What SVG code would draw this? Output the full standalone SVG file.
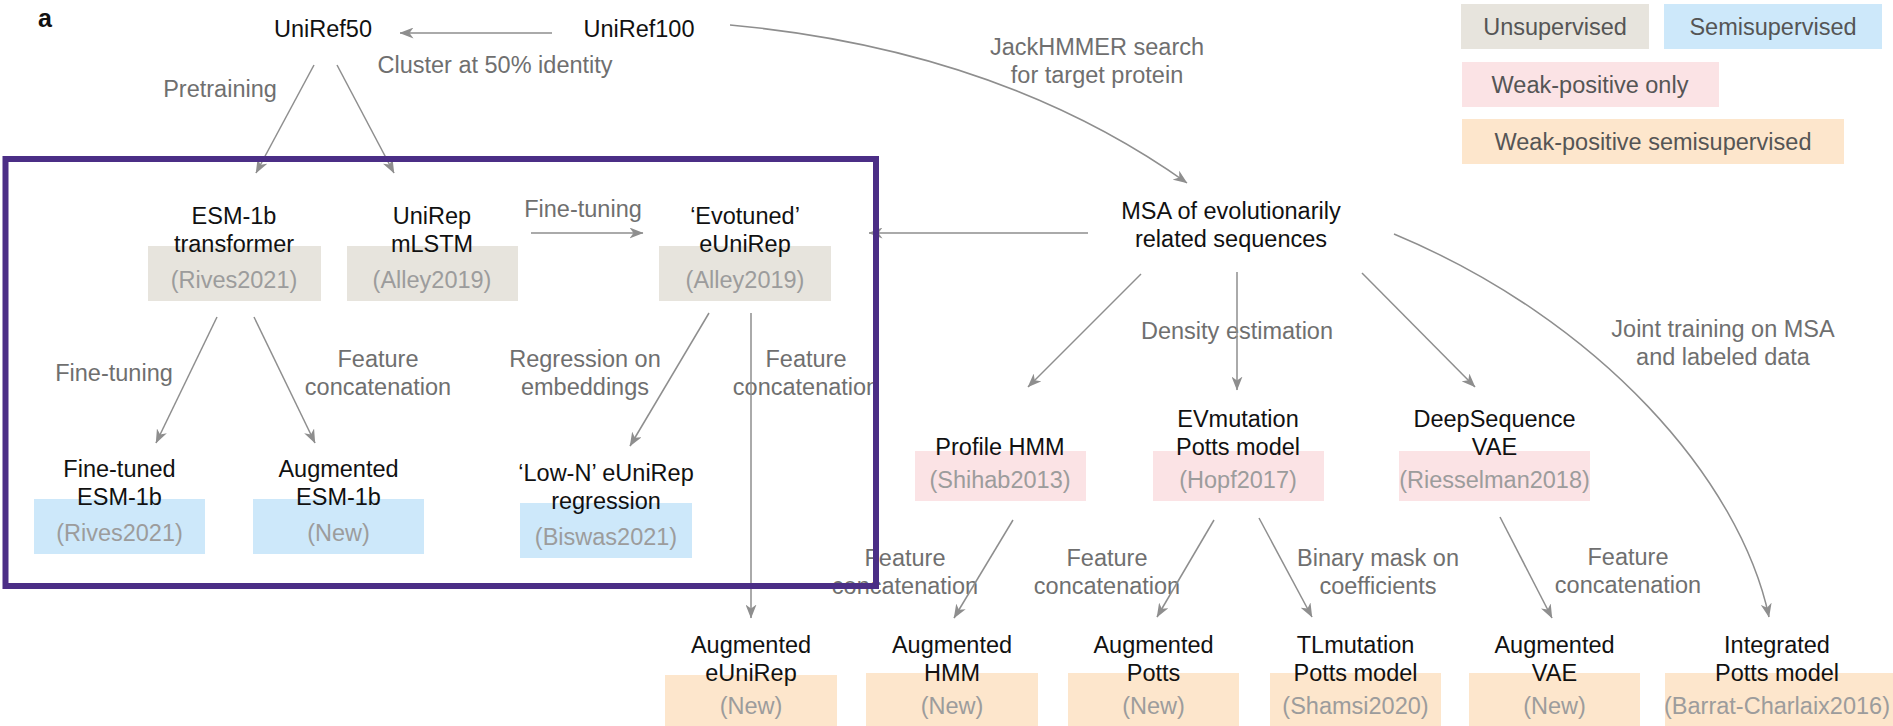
<svg xmlns="http://www.w3.org/2000/svg" width="1893" height="726" viewBox="0 0 1893 726">
  <style>
    text { font-family: "Liberation Sans", Arial, sans-serif; font-size: 23.5px; text-anchor: middle; }
    .node { fill: #111111; }
    .cite { fill: #9c9c9c; }
    .lbl { fill: #6f6f6f; }
    .leg { fill: #555555; }
    .panel { font-weight: bold; font-size: 25px; text-anchor: start; fill: #111111; }
    .unsup { fill: #e7e4dd; }
    .semi { fill: #cde8fa; }
    .weak { fill: #fbe3e5; }
    .wsemi { fill: #fde6cc; }
    .edge { fill: none; stroke: #8e8e8e; stroke-width: 1.5; marker-end: url(#arrow); }
    .frame { fill: none; stroke: #4b2e86; stroke-width: 6; }
  </style>
  <defs>
    <marker id="arrow" viewBox="0 0 14 11" refX="13.5" refY="5.5" markerWidth="14" markerHeight="11" markerUnits="userSpaceOnUse" orient="auto">
      <path d="M0,0 L14,5.5 L0,11 L4,5.5 Z" fill="#8e8e8e"/>
    </marker>
  </defs>

  <rect width="1893" height="726" fill="#ffffff"/>

  <text class="panel" x="38" y="27">a</text>

  <!-- legend -->
  <g id="legend">
    <rect class="unsup" x="1461" y="4" width="188" height="45"/>
    <text class="leg" x="1555" y="35">Unsupervised</text>
    <rect class="semi" x="1664" y="4" width="218" height="45"/>
    <text class="leg" x="1773" y="35">Semisupervised</text>
    <rect class="weak" x="1462" y="62" width="257" height="45"/>
    <text class="leg" x="1590" y="93">Weak-positive only</text>
    <rect class="wsemi" x="1462" y="119" width="382" height="45"/>
    <text class="leg" x="1653" y="150">Weak-positive semisupervised</text>
  </g>

  <!-- data sources -->
  <g id="uniref50">
    <text class="node" x="323" y="37">UniRef50</text>
  </g>
  <g id="uniref100">
    <text class="node" x="639" y="37">UniRef100</text>
  </g>
  <g id="msa">
    <text class="node" x="1231" y="219">MSA of evolutionarily</text>
    <text class="node" x="1231" y="247">related sequences</text>
  </g>

  <!-- unsupervised models -->
  <g id="esm1b">
    <rect class="unsup" x="148" y="246" width="173" height="55"/>
    <text class="node" x="234" y="224">ESM-1b</text>
    <text class="node" x="234" y="252">transformer</text>
    <text class="cite" x="234" y="288">(Rives2021)</text>
  </g>
  <g id="unirep">
    <rect class="unsup" x="347" y="246" width="171" height="55"/>
    <text class="node" x="432" y="224">UniRep</text>
    <text class="node" x="432" y="252">mLSTM</text>
    <text class="cite" x="432" y="288">(Alley2019)</text>
  </g>
  <g id="evotuned">
    <rect class="unsup" x="659" y="246" width="172" height="55"/>
    <text class="node" x="745" y="224">‘Evotuned’</text>
    <text class="node" x="745" y="252">eUniRep</text>
    <text class="cite" x="745" y="288">(Alley2019)</text>
  </g>

  <!-- semisupervised models -->
  <g id="finetuned-esm">
    <rect class="semi" x="34" y="499" width="171" height="55"/>
    <text class="node" x="119.5" y="477">Fine-tuned</text>
    <text class="node" x="119.5" y="505">ESM-1b</text>
    <text class="cite" x="119.5" y="541">(Rives2021)</text>
  </g>
  <g id="augmented-esm">
    <rect class="semi" x="253" y="499" width="171" height="55"/>
    <text class="node" x="338.5" y="477">Augmented</text>
    <text class="node" x="338.5" y="505">ESM-1b</text>
    <text class="cite" x="338.5" y="541">(New)</text>
  </g>
  <g id="lown-eunirep">
    <rect class="semi" x="520" y="503" width="172" height="55"/>
    <text class="node" x="606" y="481">‘Low-N’ eUniRep</text>
    <text class="node" x="606" y="509">regression</text>
    <text class="cite" x="606" y="545">(Biswas2021)</text>
  </g>

  <!-- weak-positive only models -->
  <g id="profile-hmm">
    <rect class="weak" x="915" y="451" width="171" height="50"/>
    <text class="node" x="1000" y="455">Profile HMM</text>
    <text class="cite" x="1000" y="488">(Shihab2013)</text>
  </g>
  <g id="evmutation">
    <rect class="weak" x="1153" y="451" width="171" height="50"/>
    <text class="node" x="1238" y="427">EVmutation</text>
    <text class="node" x="1238" y="455">Potts model</text>
    <text class="cite" x="1238" y="488">(Hopf2017)</text>
  </g>
  <g id="deepsequence">
    <rect class="weak" x="1399" y="451" width="191" height="50"/>
    <text class="node" x="1494.5" y="427">DeepSequence</text>
    <text class="node" x="1494.5" y="455">VAE</text>
    <text class="cite" x="1494.5" y="488">(Riesselman2018)</text>
  </g>

  <!-- weak-positive semisupervised models -->
  <g id="augmented-eunirep">
    <rect class="wsemi" x="665" y="675" width="172" height="51"/>
    <text class="node" x="751" y="653">Augmented</text>
    <text class="node" x="751" y="681">eUniRep</text>
    <text class="cite" x="751" y="714">(New)</text>
  </g>
  <g id="augmented-hmm">
    <rect class="wsemi" x="866" y="673" width="172" height="53"/>
    <text class="node" x="952" y="653">Augmented</text>
    <text class="node" x="952" y="681">HMM</text>
    <text class="cite" x="952" y="714">(New)</text>
  </g>
  <g id="augmented-potts">
    <rect class="wsemi" x="1068" y="673" width="171" height="53"/>
    <text class="node" x="1153.5" y="653">Augmented</text>
    <text class="node" x="1153.5" y="681">Potts</text>
    <text class="cite" x="1153.5" y="714">(New)</text>
  </g>
  <g id="tlmutation">
    <rect class="wsemi" x="1270" y="673" width="171" height="53"/>
    <text class="node" x="1355.5" y="653">TLmutation</text>
    <text class="node" x="1355.5" y="681">Potts model</text>
    <text class="cite" x="1355.5" y="714">(Shamsi2020)</text>
  </g>
  <g id="augmented-vae">
    <rect class="wsemi" x="1469" y="673" width="171" height="53"/>
    <text class="node" x="1554.5" y="653">Augmented</text>
    <text class="node" x="1554.5" y="681">VAE</text>
    <text class="cite" x="1554.5" y="714">(New)</text>
  </g>
  <g id="integrated-potts">
    <rect class="wsemi" x="1665" y="673" width="228" height="53"/>
    <text class="node" x="1777" y="653">Integrated</text>
    <text class="node" x="1777" y="681">Potts model</text>
    <text class="cite" x="1777" y="714">(Barrat-Charlaix2016)</text>
  </g>

  <!-- edge labels -->
  <g id="edge-labels">
    <text class="lbl" x="495" y="73">Cluster at 50% identity</text>
    <text class="lbl" x="220" y="97">Pretraining</text>
    <text class="lbl" x="1097" y="55">JackHMMER search</text>
    <text class="lbl" x="1097" y="83">for target protein</text>
    <text class="lbl" x="583" y="217">Fine-tuning</text>
    <text class="lbl" x="114" y="381">Fine-tuning</text>
    <text class="lbl" x="378" y="367">Feature</text>
    <text class="lbl" x="378" y="395">concatenation</text>
    <text class="lbl" x="585" y="367">Regression on</text>
    <text class="lbl" x="585" y="395">embeddings</text>
    <text class="lbl" x="806" y="367">Feature</text>
    <text class="lbl" x="806" y="395">concatenation</text>
    <text class="lbl" x="1237" y="339">Density estimation</text>
    <text class="lbl" x="1723" y="337">Joint training on MSA</text>
    <text class="lbl" x="1723" y="365">and labeled data</text>
    <text class="lbl" x="905" y="566">Feature</text>
    <text class="lbl" x="905" y="594">concatenation</text>
    <text class="lbl" x="1107" y="566">Feature</text>
    <text class="lbl" x="1107" y="594">concatenation</text>
    <text class="lbl" x="1378" y="566">Binary mask on</text>
    <text class="lbl" x="1378" y="594">coefficients</text>
    <text class="lbl" x="1628" y="565">Feature</text>
    <text class="lbl" x="1628" y="593">concatenation</text>
  </g>

  <!-- connectors -->
  <g id="connectors">
    <path class="edge" d="M552,33 L400,33"/>
    <path class="edge" d="M314,65 L256,173"/>
    <path class="edge" d="M337,65 L394,173"/>
    <path class="edge" d="M730,25 Q1000,50 1187,183"/>
    <path class="edge" d="M531,233 L643,233"/>
    <path class="edge" d="M1088,233 L869,233"/>
    <path class="edge" d="M217,317 L156,443"/>
    <path class="edge" d="M254,317 L315,443"/>
    <path class="edge" d="M709,313 L630,446"/>
    <path class="edge" d="M751,313 L751,618"/>
    <path class="edge" d="M1141,274 L1028,387"/>
    <path class="edge" d="M1237,272 L1237,390"/>
    <path class="edge" d="M1362,273 L1475,387"/>
    <path class="edge" d="M1394,234 C1600,320 1740,480 1769,617"/>
    <path class="edge" d="M1013,520 L954,618"/>
    <path class="edge" d="M1214,520 L1157,617"/>
    <path class="edge" d="M1259,518 L1312,617"/>
    <path class="edge" d="M1500,517 L1552,618"/>
  </g>

  <!-- frame around the protein language model family -->
  <g id="plm-frame">
    <rect class="frame" x="5.5" y="159" width="870.5" height="427"/>
  </g>
</svg>
